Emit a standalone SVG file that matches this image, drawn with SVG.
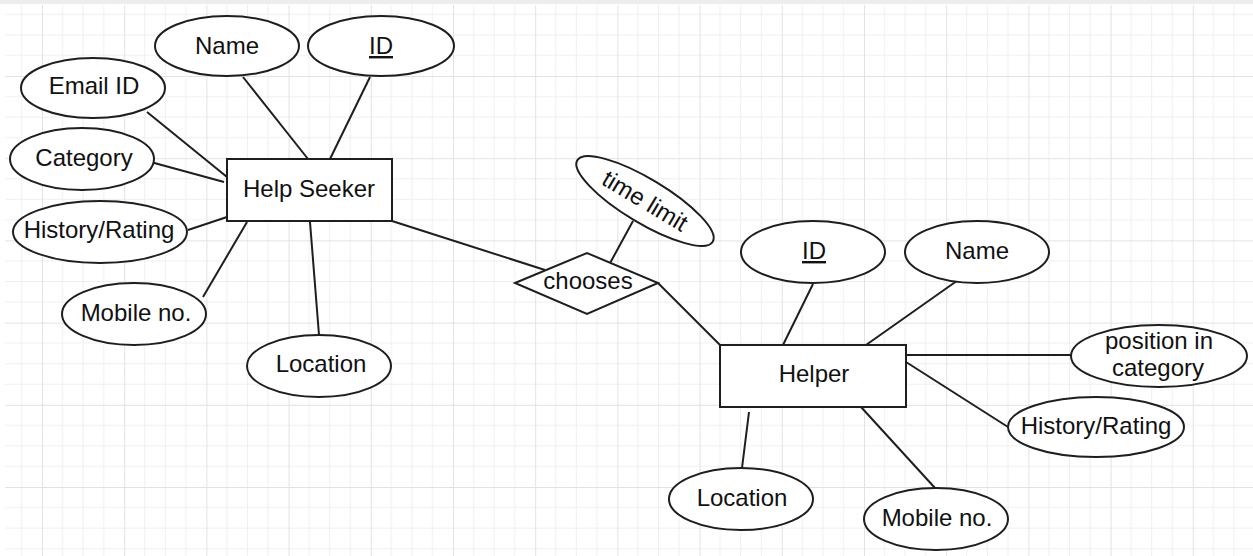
<svg xmlns="http://www.w3.org/2000/svg" width="1253" height="556" viewBox="0 0 1253 556">
  <defs>
    <!-- draw.io style canvas grid: minor every 20.55px, major every 82.2px -->
    <pattern id="grid" x="42" y="-6.2" width="82.2" height="82.2" patternUnits="userSpaceOnUse">
      <path d="M20.55 0V82.2M41.1 0V82.2M61.65 0V82.2M0 20.55H82.2M0 41.1H82.2M0 61.65H82.2" stroke="#efefef" stroke-width="1" fill="none"/>
      <path d="M0.5 0V82.2M0 0.5H82.2" stroke="#e2e2e2" stroke-width="1" fill="none"/>
    </pattern>
    <style>
      .shape { fill: #ffffff; stroke: #1e1e1e; stroke-width: 2; }
      .edge { stroke: #1e1e1e; stroke-width: 2; fill: none; }
      .label { font-family: "Liberation Sans", Arial, sans-serif; font-size: 24px; fill: #111111; text-anchor: middle; }
      .key { text-decoration: underline; }
    </style>
  </defs>

  <!-- canvas -->
  <rect x="0" y="0" width="1253" height="556" fill="#ffffff"/>
  <rect x="5" y="5" width="1248" height="551" fill="url(#grid)"/>
  <rect x="0" y="0" width="1253" height="4" fill="#ededed"/>

  <!-- connectors -->
  <g id="connectors">
    <line class="edge" x1="243" y1="77" x2="308" y2="159"/>
    <line class="edge" x1="370" y1="77" x2="330" y2="159"/>
    <line class="edge" x1="147" y1="112" x2="227" y2="177"/>
    <line class="edge" x1="147" y1="161" x2="224" y2="182"/>
    <line class="edge" x1="188" y1="230" x2="227" y2="217"/>
    <line class="edge" x1="203" y1="297" x2="247" y2="222"/>
    <line class="edge" x1="310" y1="222" x2="319" y2="335"/>
    <line class="edge" x1="392" y1="221" x2="545" y2="270"/>
    <line class="edge" x1="633" y1="221" x2="609" y2="265"/>
    <line class="edge" x1="658" y1="283" x2="720" y2="345"/>
    <line class="edge" x1="813" y1="284" x2="783" y2="345"/>
    <line class="edge" x1="961" y1="278" x2="866" y2="345"/>
    <line class="edge" x1="906" y1="355" x2="1071" y2="355"/>
    <line class="edge" x1="906" y1="362" x2="1008" y2="427"/>
    <line class="edge" x1="749" y1="412" x2="742" y2="468"/>
    <line class="edge" x1="861" y1="407" x2="935" y2="488"/>
  </g>

  <!-- Help Seeker entity and its attributes -->
  <g id="help-seeker">
    <rect class="shape" x="227" y="159" width="165" height="62"/>
    <text class="label" x="309" y="197">Help Seeker</text>
  </g>
  <g id="hs-name">
    <ellipse class="shape" cx="227" cy="46" rx="72" ry="30"/>
    <text class="label" x="227" y="54">Name</text>
  </g>
  <g id="hs-id">
    <ellipse class="shape" cx="381" cy="46" rx="73" ry="30"/>
    <text class="label key" x="381" y="54">ID</text>
  </g>
  <g id="hs-email">
    <ellipse class="shape" cx="93" cy="88" rx="72" ry="30"/>
    <text class="label" x="94" y="94">Email ID</text>
  </g>
  <g id="hs-category">
    <ellipse class="shape" cx="82" cy="159" rx="72" ry="31"/>
    <text class="label" x="84" y="166">Category</text>
  </g>
  <g id="hs-history">
    <ellipse class="shape" cx="100" cy="232" rx="87" ry="31"/>
    <text class="label" x="99" y="238">History/Rating</text>
  </g>
  <g id="hs-mobile">
    <ellipse class="shape" cx="134" cy="314" rx="72" ry="31"/>
    <text class="label" x="136" y="321">Mobile no.</text>
  </g>
  <g id="hs-location">
    <ellipse class="shape" cx="319" cy="366" rx="72" ry="31"/>
    <text class="label" x="321" y="372">Location</text>
  </g>

  <!-- relationship -->
  <g id="chooses">
    <polygon class="shape" points="515,283 587,253 658,283 587,314"/>
    <text class="label" x="588" y="289">chooses</text>
  </g>
  <g id="time-limit" transform="translate(645 201) rotate(31)">
    <ellipse class="shape" cx="0" cy="0" rx="79" ry="22"/>
    <text class="label" x="0" y="8">time limit</text>
  </g>

  <!-- Helper entity and its attributes -->
  <g id="helper">
    <rect class="shape" x="720" y="345" width="186" height="62"/>
    <text class="label" x="814" y="382">Helper</text>
  </g>
  <g id="helper-id">
    <ellipse class="shape" cx="813" cy="252" rx="72" ry="31"/>
    <text class="label key" x="814" y="259">ID</text>
  </g>
  <g id="helper-name">
    <ellipse class="shape" cx="977" cy="252" rx="72" ry="31"/>
    <text class="label" x="977" y="259">Name</text>
  </g>
  <g id="helper-position">
    <ellipse class="shape" cx="1159" cy="356" rx="88" ry="31"/>
    <text class="label" x="1159" y="349">position in</text>
    <text class="label" x="1158" y="376">category</text>
  </g>
  <g id="helper-history">
    <ellipse class="shape" cx="1096" cy="427" rx="88" ry="30"/>
    <text class="label" x="1096" y="434">History/Rating</text>
  </g>
  <g id="helper-location">
    <ellipse class="shape" cx="741" cy="499" rx="72" ry="31"/>
    <text class="label" x="742" y="506">Location</text>
  </g>
  <g id="helper-mobile">
    <ellipse class="shape" cx="936" cy="519" rx="72" ry="31"/>
    <text class="label" x="937" y="526">Mobile no.</text>
  </g>
</svg>
